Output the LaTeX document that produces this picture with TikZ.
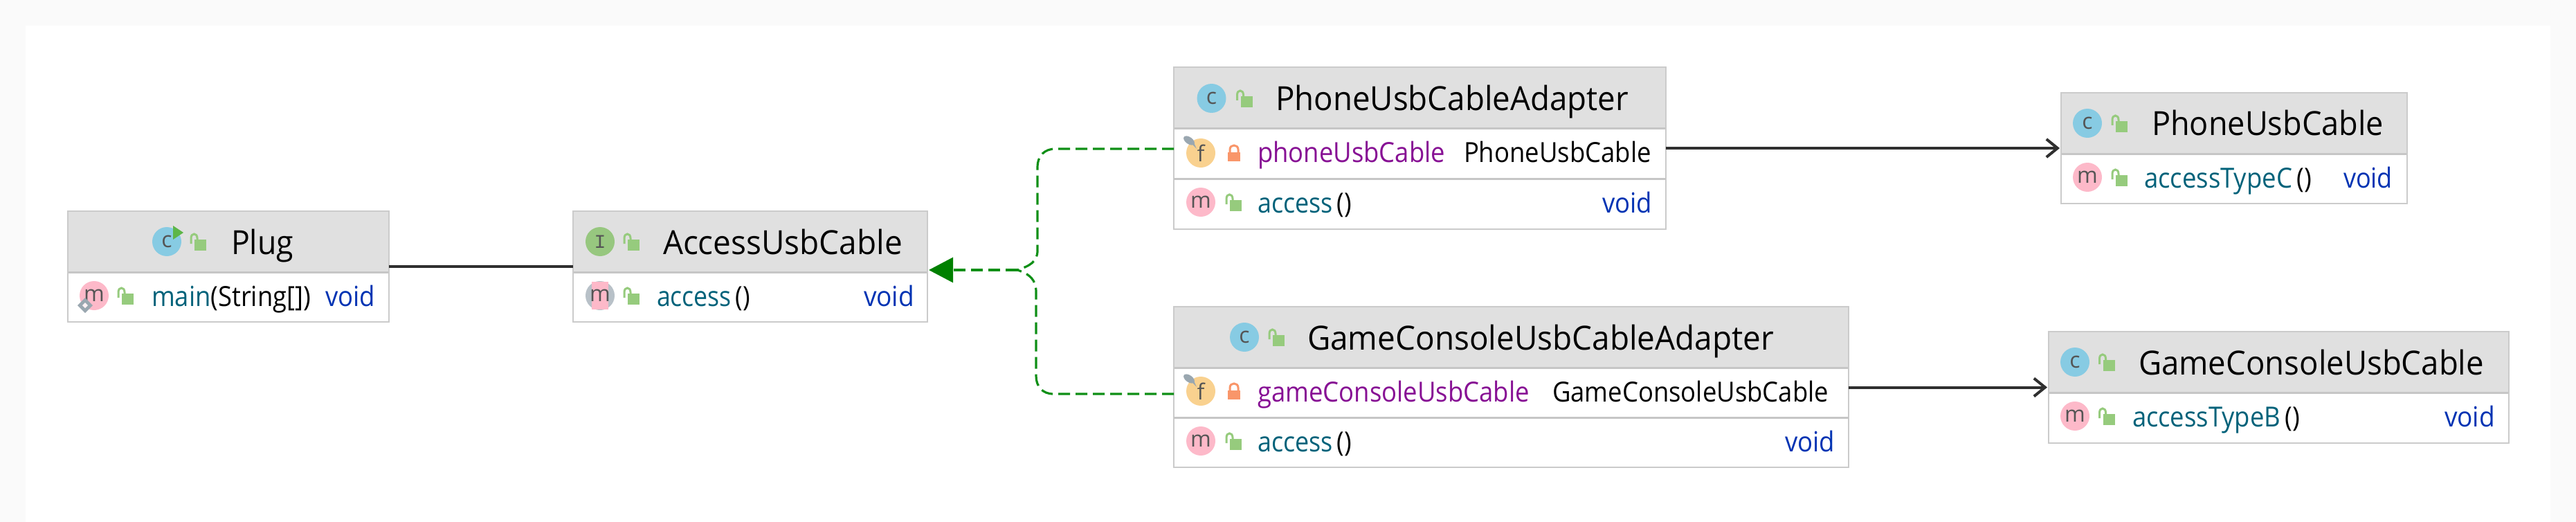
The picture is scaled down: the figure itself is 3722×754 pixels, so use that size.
\documentclass[tikz,border=0pt]{standalone}
\usepackage{fontspec}
\usepackage{graphicx}
\setmainfont{Open Sans}
\newfontfamily\monofam{Liberation Mono}
\usetikzlibrary{arrows.meta}
\definecolor{pagebg}{HTML}{FAFAFA}
\definecolor{hdrgray}{HTML}{E0E0E0}
\definecolor{edgegray}{HTML}{CBCBCB}
\definecolor{sepgray}{HTML}{C6C6C6}
\definecolor{methodc}{HTML}{00627A}
\definecolor{fieldc}{HTML}{871094}
\definecolor{kwc}{HTML}{0033B3}
\definecolor{iconc}{HTML}{87CBE3}
\definecolor{iconm}{HTML}{FDB9C9}
\definecolor{iconi}{HTML}{97C77F}
\definecolor{iconf}{HTML}{F9D18F}
\definecolor{lockg}{HTML}{96CB7D}
\definecolor{locko}{HTML}{F9966A}
\definecolor{glyph}{HTML}{555555}
\definecolor{pingray}{HTML}{9AA7B0}
\definecolor{playgreen}{HTML}{5DB648}
\definecolor{linedark}{HTML}{2F2F2F}
\definecolor{greenarrow}{HTML}{008000}
\definecolor{greendash}{HTML}{0F8F16}
\tikzset{
  classbox/.style={draw=edgegray,line width=2.5pt,inner sep=0pt,outer sep=0pt},
  hdr/.style={fill=hdrgray},
  sepline/.style={draw=sepgray,line width=3pt},
  titletext/.style={anchor=base west,inner sep=0pt,outer sep=0pt,font=\fontsize{48}{48}\selectfont,text=black},
  rowtext/.style={anchor=base west,inner sep=0pt,outer sep=0pt,font=\fontsize{40}{40}\selectfont,text=black},
  icn/.style={circle,inner sep=0pt,outer sep=0pt,minimum size=42pt,text=glyph,font=\fontsize{32}{32}\selectfont},
  solidlink/.style={draw=linedark,line width=4pt},
  dashlink/.style={draw=greendash,line width=3.2pt,dash pattern=on 17pt off 8pt},
  lockopen/.pic={
    \fill[lockg] (-5,-4) rectangle (12,12);
    \draw[lockg,line width=3pt] (-10,2) -- (-10,-6) .. controls (-10,-14) and (-1,-14) .. (-1,-6) -- (-1,-3);
  },
  lockshut/.pic={
    \fill[locko] (-9,-1) rectangle (9,12);
    \draw[locko,line width=3pt] (-6,0) -- (-6,-5) .. controls (-6,-13) and (6,-13) .. (6,-5) -- (6,0);
  },
}
% name, x1, y1, x2, y2, header bottom
\newcommand\cls[6]{%
  \fill[white] (#2,#3) rectangle (#4,#5);
  \fill[hdr] (#2,#3) rectangle (#4,#6);
  \draw[sepline] (#2,#6) -- (#4,#6);
  \pgfmathsetmacro\ccx{(#2+#4)/2}%
  \pgfmathsetmacro\ccy{(#3+#5)/2}%
  \pgfmathsetmacro\ccw{#4-#2}%
  \pgfmathsetmacro\cch{#5-#3}%
  \node[classbox,minimum width=\ccw pt,minimum height=\cch pt] (#1) at (\ccx,\ccy) {};
}
% style, name, x, baseline, width, text
\newcommand\lbl[6]{\node[#1] (#2) at (#3,#4) {\resizebox{#5pt}{\height}{#6}};}
\newcommand\mtd[1]{\textcolor{methodc}{#1}}
\newcommand\fld[1]{\textcolor{fieldc}{#1}}
\newcommand\kw[1]{\textcolor{kwc}{#1}}
\newcommand\pinmark[2]{%
  \fill[pingray,rotate around={-35:(#1-17,#2-18)}] (#1-17,#2-18) ellipse (9 and 5);
  \fill[pingray] (#1-14,#2-14) -- (#1-6,#2-6) -- (#1-10,#2-15) -- cycle;
}
\begin{document}
\begin{tikzpicture}[x=1pt,y=-1pt]
\useasboundingbox (0,0) rectangle (3722,754);
\fill[pagebg] (0,0) rectangle (3722,754);
\fill[white] (37,37) rectangle (3685,754);

% Class boxes
\cls{Plug}{98}{305}{562}{465}{393}
\cls{Access}{828}{305}{1340}{465}{393}
\cls{PhoneAdapter}{1696}{97}{2407}{331}{186}
\draw[sepline] (1696,258) -- (2407,258);
\cls{GameAdapter}{1696}{443}{2671}{675}{531}
\draw[sepline] (1696,603) -- (2671,603);
\cls{PhoneCable}{2978}{134}{3478}{294}{222}
\cls{GameCable}{2960}{479}{3625}{640}{567}

% Plug
\node[icn,fill=iconc] (plugC) at (241,349) {c};
\fill[playgreen] (250,326) -- (265,336) -- (250,346) -- cycle;
\pic at (286,350) {lockopen};
\lbl{titletext}{plugT}{334}{367}{90}{Plug}
\node[icn,fill=iconm] (plugM) at (136,427) {m};
\fill[pingray] (123,430) -- (134,441) -- (123,452) -- (112,441) -- cycle;
\fill[white!80!iconm] (123,437) -- (127,441) -- (123,445) -- (119,441) -- cycle;
\pic at (181,428) {lockopen};
\lbl{rowtext}{plugR}{219}{442}{230}{\mtd{main}(String[])}
\lbl{rowtext}{plugV}{470}{442}{72}{\kw{void}}

% AccessUsbCable
\node[icn,fill=iconi,font=\fontsize{28}{28}\monofam] (accI) at (867,349) {I};
\pic at (912,350) {lockopen};
\lbl{titletext}{accT}{958}{367}{346}{AccessUsbCable}
\node[icn,fill=pingray!70!white] (accMbg) at (867,427) {};
\fill[iconm] (855,407) rectangle (879,447);
\node[icn] (accM) at (867,427) {m};
\pic at (912,428) {lockopen};
\lbl{rowtext}{accR}{949}{442}{135}{\mtd{access}\,()}
\lbl{rowtext}{accV}{1248}{442}{73}{\kw{void}}

% PhoneUsbCableAdapter
\node[icn,fill=iconc] (paC) at (1750.5,142) {c};
\pic at (1797.5,143) {lockopen};
\lbl{titletext}{paT}{1843}{160}{510}{PhoneUsbCableAdapter}
\node[icn,fill=iconf] (paF) at (1735,221) {f};
\pinmark{1735}{221}
\pic at (1783,221) {lockshut};
\lbl{rowtext}{paN}{1817}{234}{271}{\fld{phoneUsbCable}}
\lbl{rowtext}{paTy}{2115}{234}{271}{PhoneUsbCable}
\node[icn,fill=iconm] (paM) at (1735,292) {m};
\pic at (1782,293) {lockopen};
\lbl{rowtext}{paR}{1817}{307}{136}{\mtd{access}\,()}
\lbl{rowtext}{paV}{2315}{307}{72}{\kw{void}}

% GameConsoleUsbCableAdapter
\node[icn,fill=iconc] (gaC) at (1798,487) {c};
\pic at (1844,488) {lockopen};
\lbl{titletext}{gaT}{1889}{505}{674}{GameConsoleUsbCableAdapter}
\node[icn,fill=iconf] (gaF) at (1735,565) {f};
\pinmark{1735}{565}
\pic at (1783,565) {lockshut};
\lbl{rowtext}{gaN}{1817}{580}{393}{\fld{gameConsoleUsbCable}}
\lbl{rowtext}{gaTy}{2243}{580}{399}{GameConsoleUsbCable}
\node[icn,fill=iconm] (gaM) at (1735,637) {m};
\pic at (1782,638) {lockopen};
\lbl{rowtext}{gaR}{1817}{652}{136}{\mtd{access}\,()}
\lbl{rowtext}{gaV}{2579}{652}{72}{\kw{void}}

% PhoneUsbCable
\node[icn,fill=iconc] (pcC) at (3016,178) {c};
\pic at (3062,179) {lockopen};
\lbl{titletext}{pcT}{3109}{196}{335}{PhoneUsbCable}
\node[icn,fill=iconm] (pcM) at (3016,256) {m};
\pic at (3062,257) {lockopen};
\lbl{rowtext}{pcR}{3098}{271}{242}{\mtd{accessTypeC}\,()}
\lbl{rowtext}{pcV}{3386}{271}{71}{\kw{void}}

% GameConsoleUsbCable
\node[icn,fill=iconc] (gcC) at (2998,523) {c};
\pic at (3043.5,524) {lockopen};
\lbl{titletext}{gcT}{3090}{541}{499}{GameConsoleUsbCable}
\node[icn,fill=iconm] (gcM) at (2998,601) {m};
\pic at (3043.5,602) {lockopen};
\lbl{rowtext}{gcR}{3081}{616}{242}{\mtd{accessTypeB}\,()}
\lbl{rowtext}{gcV}{3532}{616}{73}{\kw{void}}

% Connectors
\draw[solidlink] (Plug.east) -- (Access.west);
\draw[solidlink,-{Straight Barb[length=16pt,width=26pt,line width=4pt]},shorten >=2pt] (PhoneAdapter.east |- PhoneCable.west) -- (PhoneCable.west);
\draw[solidlink,-{Straight Barb[length=16pt,width=26pt,line width=4pt]},shorten >=2pt] (GameAdapter.east |- GameCable.west) -- (GameCable.west);

\coordinate (accessIn) at (1342,390);
\coordinate (merge) at (1470,390);
\coordinate (phoneOut) at (1696,215);
\coordinate (gameOut) at (1696,569);
\draw[dashlink] (phoneOut) -- (1525,215) .. controls (1509,215) and (1499,225) .. (1499,242) -- (1499,362) .. controls (1499,378) and (1488,384) .. (merge);
\draw[dashlink] (gameOut) -- (1522,569) .. controls (1506,569) and (1497,558) .. (1497,543) -- (1497,422) .. controls (1497,404) and (1488,396) .. (merge);
\draw[dashlink,-{Triangle[length=35pt,width=36pt,color=greenarrow,fill=greenarrow]}] (merge) -- (accessIn);
\end{tikzpicture}
\end{document}
